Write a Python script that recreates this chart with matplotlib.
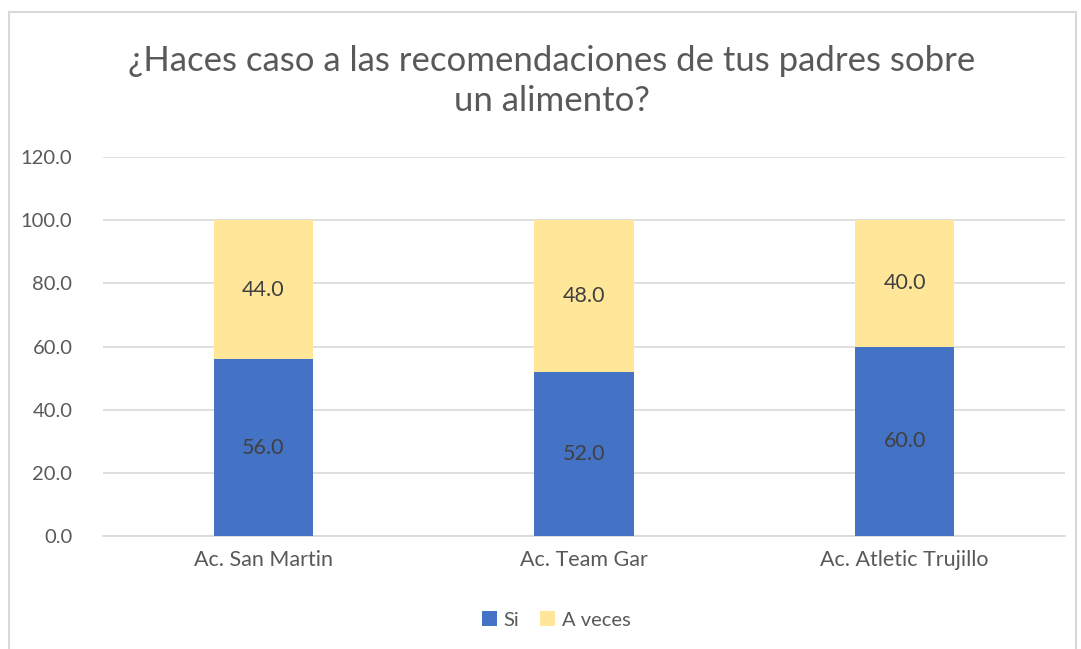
import matplotlib.pyplot as plt
import matplotlib.patches as mpatches
import numpy as np

plt.rcParams['font.family'] = ['Lato', 'DejaVu Sans']

academias = ['Ac. San Martin', 'Ac. Team Gar', 'Ac. Atletic Trujillo']
si = [56.0, 52.0, 60.0]
a_veces = [44.0, 48.0, 40.0]

W, H = 1081, 649
fig = plt.figure(figsize=(W / 100, H / 100), dpi=100)

# marco gris del grafico
fig.patches.append(mpatches.Rectangle((9 / W, -0.05), 1067 / W, 1.05 - 12 / H,
                                      transform=fig.transFigure, fill=False,
                                      edgecolor='#D9D9D9', linewidth=1.5))

ax = fig.add_axes([103 / W, 1 - 536 / H, 962 / W, 379 / H])

x = np.arange(len(academias))
width = 0.31
b1 = ax.bar(x, si, width, color='#4472C4', label='Si', zorder=3)
b2 = ax.bar(x, a_veces, width, bottom=si, color='#FFE699', label='A veces', zorder=3)

ax.bar_label(b1, fmt='%.1f', label_type='center', color='#404040', fontsize=15.5)
ax.bar_label(b2, fmt='%.1f', label_type='center', color='#404040', fontsize=15.5)

ax.set_xlim(-0.5, 2.5)
ax.set_ylim(0, 120)
ax.set_yticks(np.arange(0, 121, 20))
ax.set_yticklabels([f'{v:.1f}' for v in np.arange(0, 121, 20)])
ax.set_xticks(x, academias)
ax.tick_params(axis='y', length=0, labelsize=14.5, labelcolor='#595959', pad=22)
ax.tick_params(axis='x', length=0, labelsize=15.5, labelcolor='#595959', pad=10)
ax.grid(axis='y', color='#D9D9D9', linewidth=1.2, zorder=0)
for s in ['top', 'right', 'left']:
    ax.spines[s].set_visible(False)
ax.spines['bottom'].set_color('#D9D9D9')
ax.spines['bottom'].set_linewidth(1.2)

fig.text(552 / W, 1 - 81 / H,
         '¿Haces caso a las recomendaciones de tus padres sobre\nun alimento?',
         ha='center', va='center', fontsize=25, color='#595959', linespacing=1.3)

fig.legend(handles=[b1, b2], loc='center', bbox_to_anchor=(556 / W, 1 - 620 / H),
           ncol=2, frameon=False, fontsize=14.5, labelcolor='#595959',
           handlelength=0.75, handleheight=0.75, handletextpad=0.35, columnspacing=1.0)

fig.savefig('out.png', dpi=100)
